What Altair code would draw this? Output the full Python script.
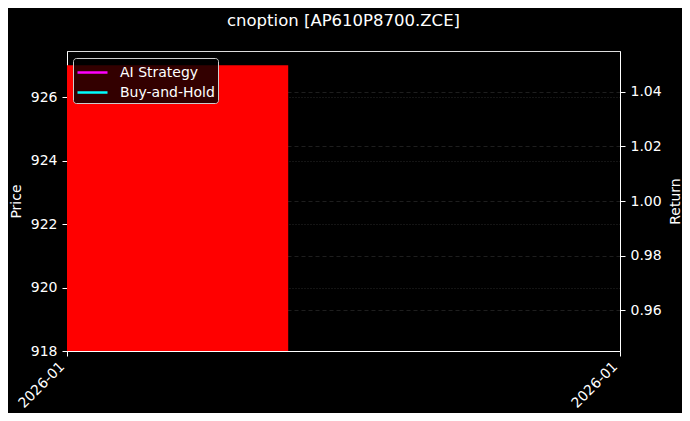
import altair as alt
import pandas as pd

# Data
bar_start = [0.0]
bar_end = [0.4]
bar_price = [927.0]
series_names = ["AI Strategy", "Buy-and-Hold"]
series_x = [0.0, 0.0]
series_return = [1.0, 1.0]
series_colors = ["#ff00ff", "#00ffff"]
x_ticks = [0, 1]
x_tick_label = "2026-01"
price_ticks = [918, 920, 922, 924, 926]
return_ticks = [0.96, 0.98, 1.0, 1.02, 1.04]
price_domain = [918, 927.45]
return_domain = [0.945, 1.055]

bars = pd.DataFrame({"x0": bar_start, "x1": bar_end, "price": bar_price})
lines = pd.DataFrame({"x": series_x, "ret": series_return, "series": series_names})

FS = 14
xscale = alt.Scale(domain=[0, 1], nice=False, zero=False)
xaxis = alt.Axis(values=x_ticks, labelExpr=f"'{x_tick_label}'", labelAngle=-45,
                 labelAlign="right", labelBaseline="bottom", grid=False, title=None,
                 labelFontSize=FS, labelColor="white", tickColor="white",
                 domainColor="white", tickSize=5, labelPadding=13)

bar = alt.Chart(bars).mark_bar(color="#ff0000", clip=True).encode(
    x=alt.X("x0:Q", scale=xscale, axis=xaxis),
    x2="x1:Q",
    y=alt.Y("price:Q", scale=alt.Scale(domain=price_domain, nice=False, zero=False),
            axis=alt.Axis(title="Price", values=price_ticks, orient="left",
                          grid=True, gridColor="#444444", gridDash=[1, 2], gridWidth=0.6,
                          labelFontSize=FS, labelColor="white", titleColor="white",
                          titleFontSize=FS, titleFontWeight="normal", tickColor="white",
                          domainColor="white", tickSize=5, labelPadding=5, titlePadding=7)),
    y2=alt.value(300),
)

line = alt.Chart(lines).mark_line(strokeWidth=2).encode(
    x=alt.X("x:Q", scale=xscale),
    y=alt.Y("ret:Q", scale=alt.Scale(domain=return_domain, nice=False, zero=False),
            axis=alt.Axis(title="Return", orient="right", values=return_ticks,
                          format=".2f", grid=True, gridColor="#333333", gridDash=[4, 3],
                          gridWidth=0.6, labelFontSize=FS, labelColor="white",
                          titleColor="white", titleFontSize=FS, titleFontWeight="normal",
                          titleAngle=270, titleBaseline="top",
                          tickColor="white", domainColor="white", tickSize=5,
                          labelPadding=5, titlePadding=7)),
    color=alt.Color("series:N", scale=alt.Scale(domain=series_names, range=series_colors),
                    legend=alt.Legend(title=None, orient="none", legendX=6, legendY=7,
                                      symbolType="M-1,0H2", symbolStrokeWidth=2.5, symbolSize=400,
                                      labelColor="white", labelFontSize=FS, labelOffset=21,
                                      fillColor="rgba(0,0,0,0.8)", strokeColor="#cccccc",
                                      cornerRadius=3, padding=3, rowPadding=1)),
)

chart = alt.layer(bar, line).resolve_scale(y="independent").properties(
    width=553, height=300,
    title=alt.TitleParams("cnoption [AP610P8700.ZCE]", color="white", fontSize=16.5,
                          fontWeight="normal", anchor="middle", offset=22),
    background="black",
    padding={"left": 59, "top": 43, "right": 62, "bottom": 62},
    autosize=alt.AutoSizeParams(type="none"),
).configure_view(stroke="white", strokeWidth=1).configure(
    font="DejaVu Sans"
)

chart.save("out.html", embed_options={"renderer": "svg", "actions": False})
